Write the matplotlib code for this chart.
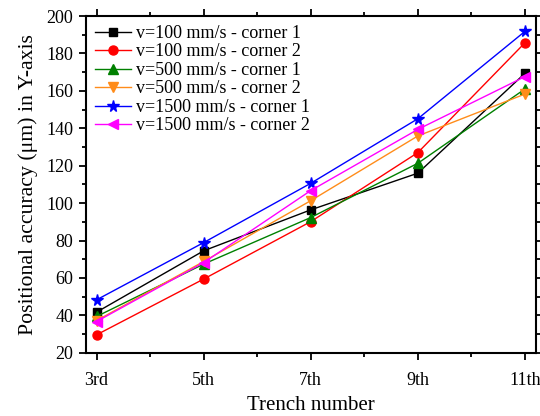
import matplotlib
matplotlib.use("Agg")
import matplotlib.pyplot as plt
from matplotlib.ticker import MultipleLocator

plt.rcParams['font.family'] = ['Liberation Serif', 'DejaVu Serif']
plt.rcParams['mathtext.fontset'] = 'stix'

trenches = ["3rd", "5th", "7th", "9th", "11th"]
labels = ["v=100 mm/s - corner 1", "v=100 mm/s - corner 2",
          "v=500 mm/s - corner 1", "v=500 mm/s - corner 2",
          "v=1500 mm/s - corner 1", "v=1500 mm/s - corner 2"]
v100_c1 = [41.7, 74.5, 96.4, 116.0, 169.4]
v100_c2 = [29.6, 59.4, 90.1, 127.0, 185.7]
v500_c1 = [39.4, 67.4, 92.3, 121.3, 161.0]
v500_c2 = [37.2, 68.8, 101.3, 135.9, 158.3]
v1500_c1 = [48.3, 78.9, 110.6, 145.1, 191.8]
v1500_c2 = [36.7, 68.2, 106.7, 139.4, 167.6]

series = [v100_c1, v100_c2, v500_c1, v500_c2, v1500_c1, v1500_c2]
colors = ['black', '#FF0000', '#008000', '#FF8C1A', '#0000FF', '#FF00FF']
markers = ['s', 'o', '^', 'v', '*', '<']
msizes = [6, 6.5, 7, 7, 8.5, 7]

fig = plt.figure(figsize=(5.4, 4.16), dpi=100)
ax = fig.add_axes([0.159, 0.152, 0.992 - 0.159, 0.9615 - 0.152])
x = list(range(len(trenches)))
for ys, c, m, ms, lab in zip(series, colors, markers, msizes, labels):
    ax.plot(x, ys, color=c, marker=m, markersize=ms, linewidth=1.0, label=lab)

ax.set_xlim(-0.1, 4.1)
ax.set_ylim(20, 200)
ax.set_xticks(x)
ax.set_xticklabels(trenches)
ax.xaxis.set_minor_locator(MultipleLocator(0.5))
ax.yaxis.set_major_locator(MultipleLocator(20))
ax.yaxis.set_minor_locator(MultipleLocator(10))
for s in ax.spines.values():
    s.set_linewidth(1.5)
ax.tick_params(axis='both', which='major', direction='out', length=5, width=1.3,
               labelsize=13, pad=4)
ax.tick_params(axis='both', which='minor', direction='out', length=3, width=1.3)
ax.tick_params(axis='x', which='major', pad=9)
ax.tick_params(top=True, right=True, which='both')
ax.set_xlabel("Trench number", fontsize=15, labelpad=5)
ax.set_ylabel("Positional accuracy (μm) in Y-axis", fontsize=15.7, labelpad=6)

ax.legend(loc='upper left', frameon=False, fontsize=13, handlelength=2.0,
          handletextpad=0.25, labelspacing=0.08, borderaxespad=0.3,
          borderpad=0.2, numpoints=1)

fig.savefig("out.png", dpi=100)
